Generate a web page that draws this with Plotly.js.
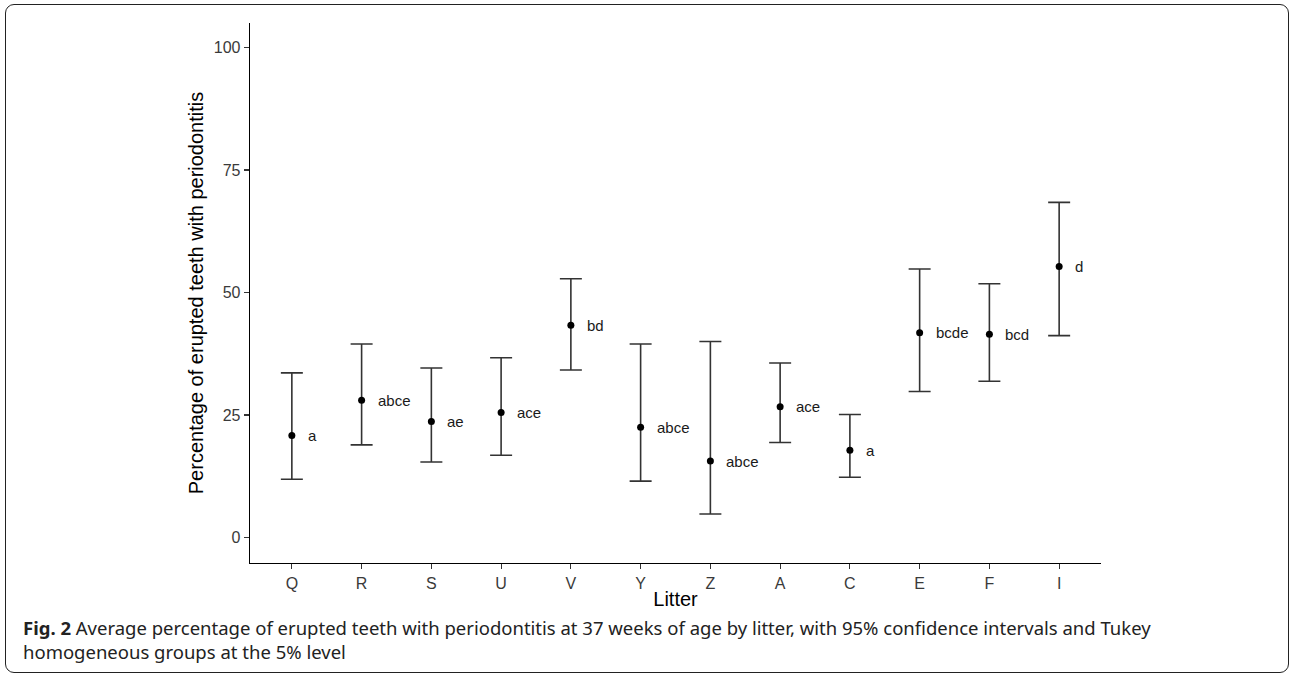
<!DOCTYPE html>
<html>
<head>
<meta charset="utf-8">
<script src="https://cdn.plot.ly/plotly-3.0.1.min.js"></script>
<style>
  html, body { margin: 0; padding: 0; background: #fff; }
  #wrap { position: relative; width: 1292px; height: 676px; overflow: hidden; }
  #chart { position: absolute; left: 0; top: 0; width: 1292px; height: 676px; }
  #frame { position: absolute; left: 5px; top: 4px; width: 1282px; height: 667px;
           border: 1.5px solid #222; border-radius: 9px; pointer-events: none; }
  #caption { position: absolute; left: 23px; top: 616px; width: 1260px;
             font-family: "Noto Sans", "Open Sans", sans-serif; font-size: 18.5px;
             line-height: 24px; color: #222; }
  #caption b { font-weight: bold; }
</style>
</head>
<body>
<div id="wrap">
  <div id="chart"></div>
  <div id="frame"></div>
  <div id="caption"><b>Fig. 2</b> Average percentage of erupted teeth with periodontitis at 37 weeks of age by litter, with 95% confidence intervals and Tukey<br>homogeneous groups at the 5% level</div>
</div>
<script>
const litters = ["Q", "R", "S", "U", "V", "Y", "Z", "A", "C", "E", "F", "I"];
const meanPct = [20.8, 28.0, 23.7, 25.5, 43.3, 22.5, 15.6, 26.7, 17.8, 41.8, 41.5, 55.3];
const upperCI = [33.6, 39.5, 34.6, 36.7, 52.8, 39.5, 40.0, 35.6, 25.1, 54.8, 51.8, 68.4];
const lowerCI = [11.9, 18.9, 15.4, 16.8, 34.2, 11.5, 4.8, 19.4, 12.3, 29.8, 31.9, 41.2];
const tukeyGroups = ["a", "abce", "ae", "ace", "bd", "abce", "abce", "ace", "a", "bcde", "bcd", "d"];

const xIdx = litters.map((_, i) => i);

const trace = {
  x: xIdx,
  y: meanPct,
  type: "scatter",
  mode: "markers",
  marker: { color: "#000", size: 7 },
  error_y: {
    type: "data",
    symmetric: false,
    array: upperCI.map((u, i) => u - meanPct[i]),
    arrayminus: lowerCI.map((l, i) => meanPct[i] - l),
    color: "#333",
    thickness: 1.6,
    width: 11
  },
  hoverinfo: "skip",
  showlegend: false
};

const annotations = tukeyGroups.map((g, i) => ({
  x: xIdx[i],
  y: meanPct[i],
  xref: "x",
  yref: "y",
  text: g,
  showarrow: false,
  xanchor: "left",
  yanchor: "middle",
  xshift: 14,
  font: { family: "'Liberation Sans', Arial, sans-serif", size: 15, color: "#1a1a1a" }
}));

const layout = {
  width: 1292,
  height: 676,
  margin: { l: 250, r: 191, t: 23, b: 113 },
  paper_bgcolor: "rgba(0,0,0,0)",
  plot_bgcolor: "rgba(0,0,0,0)",
  font: { family: "'Liberation Sans', Arial, sans-serif", color: "#4d4d4d" },
  xaxis: {
    range: [-0.6, 11.6],
    tickvals: xIdx,
    ticktext: litters,
    showgrid: false,
    zeroline: false,
    showline: true,
    linecolor: "#000",
    linewidth: 1.3,
    ticks: "outside",
    ticklen: 5,
    tickwidth: 1.2,
    tickcolor: "#333",
    tickfont: { size: 16, color: "#3a3a3a" },
    title: { text: "Litter", font: { size: 20, color: "#000" }, standoff: 1 }
  },
  yaxis: {
    range: [-5.2, 105.0],
    tickvals: [0, 25, 50, 75, 100],
    showgrid: false,
    zeroline: false,
    showline: true,
    linecolor: "#000",
    linewidth: 1.3,
    ticks: "outside",
    ticklen: 5,
    tickwidth: 1.2,
    tickcolor: "#333",
    tickfont: { size: 16, color: "#3a3a3a" },
    title: { text: "Percentage of erupted teeth with periodontitis", font: { size: 20, color: "#000" }, standoff: 4 }
  },
  annotations: annotations
};

Plotly.newPlot("chart", [trace], layout, { displayModeBar: false, staticPlot: true });
</script>
</body>
</html>
